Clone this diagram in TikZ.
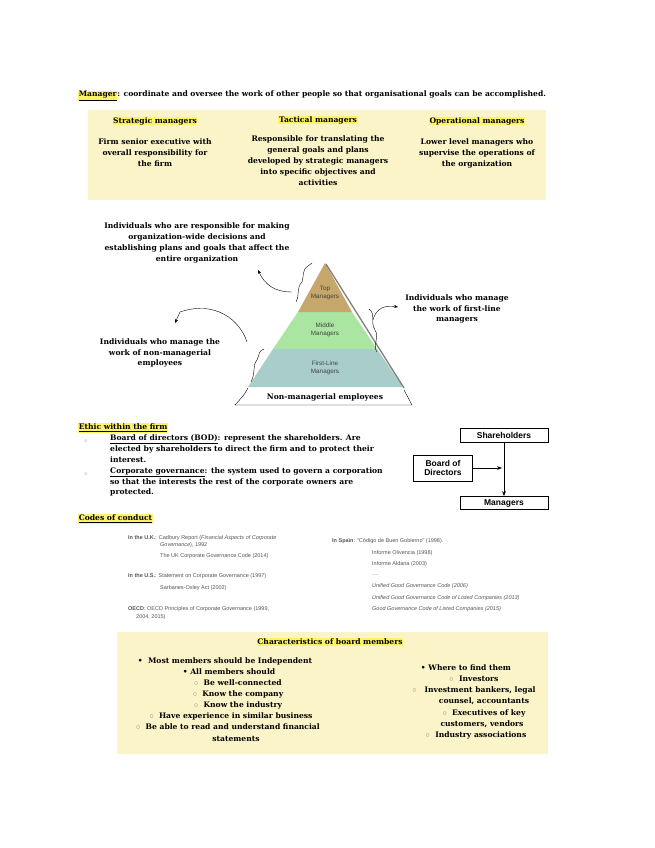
\documentclass[tikz,border=0pt]{standalone}
\usepackage{fontspec}
\setmainfont{DejaVu Serif}
\newfontfamily\sans{Liberation Sans}
\usetikzlibrary{arrows.meta,calc}
\definecolor{boxy}{HTML}{FBF4C8}
\definecolor{hl}{HTML}{FDF36A}
\definecolor{topc}{HTML}{C7A86C}
\definecolor{midc}{HTML}{ABE5A2}
\definecolor{lowc}{HTML}{A9CDCB}
\definecolor{codeg}{HTML}{555555}
\setlength{\fboxsep}{0.6pt}
\tikzset{
 x=1pt,y=-1pt,
 t/.style={font=\bfseries\fontsize{7.6}{10.8}\selectfont,inner sep=0pt,align=center},
 tl/.style={t,align=left,anchor=west},
 hlt/.style={t,fill=hl,inner sep=0.6pt},
 code/.style={font=\sans\fontsize{5.5}{7}\selectfont,text=codeg,inner sep=0pt,anchor=west},
 fb/.style={draw,thick,font=\sans\bfseries\fontsize{8.5}{9.5}\selectfont,align=center,inner sep=1pt},
 curl/.style={-{Stealth[length=4pt]},thin},
 brace/.style={thin}
}
\begin{document}
\begin{tikzpicture}
\useasboundingbox (0,0) rectangle (655,848);
\fill[white] (0,0) rectangle (655,848);
% intro
\node[tl] (intro) at (78,96) {\colorbox{hl}{\underline{Manager}}: coordinate and oversee the work of other people so that organisational goals can be accomplished.};
\fill[boxy] (88,110) rectangle (546,200);
\node[hlt] (h1) at (155,121) {Strategic managers};
\node[hlt] (h2) at (318,120) {Tactical managers};
\node[hlt] (h3) at (477,121) {Operational managers};
\node[t,anchor=north] (b1) at (155,139) {Firm senior executive with\\overall responsibility for\\the firm};
\node[t,anchor=north] (b2) at (318,136) {Responsible for translating the\\general goals and plans\\developed by strategic managers\\into specific objectives and\\activities};
\node[t,anchor=north] (b3) at (477,139) {Lower level managers who\\supervise the operations of\\the organization};
% pyramid
\fill[lowc] (248,387) -- (403,387) -- (377,349) -- (273,349) -- cycle;
\fill[midc] (273,349) -- (377,349) -- (352,312) -- (298,312) -- cycle;
\fill[topc] (298,312) -- (352,312) -- (325,263) -- cycle;
\draw[gray,line width=1.3pt] (326,264) -- (404,388);
\node[font=\sans\fontsize{6.3}{7.5}\selectfont,align=center,text=black!75] (ptop) at (325,293) {Top\\Managers};
\node[font=\sans\fontsize{6.3}{7.5}\selectfont,align=center,text=black!75] (pmid) at (325,330) {Middle\\Managers};
\node[font=\sans\fontsize{6.3}{7.5}\selectfont,align=center,text=black!75] (plow) at (325,368) {First-Line\\Managers};
\node[t] (nonm) at (325,397) {Non-managerial employees};
\draw[thin] (248,388) .. controls (244,395) .. (235,405) -- (412,405) .. controls (408,398) .. (404,390);
% text blocks
\node[t] (ttop) at (197,243) {Individuals who are responsible for making\\organization-wide decisions and\\establishing plans and goals that affect the\\entire organization};
\node[t] (tright) at (457,309) {Individuals who manage\\the work of first-line\\managers};
\node[t] (tleft) at (160,353) {Individuals who manage the\\work of non-managerial\\employees};
% braces and curls
\coordinate (c1) at (292,292);
\coordinate (c1e) at (258,270);
\draw[curl] (c1) .. controls (275,292) and (265,285) .. (c1e);
\draw[brace] (296,302) .. controls (300,295) and (296,288) .. (302,282) .. controls (304,275) and (302,270) .. (308,266) -- (312,263);
\coordinate (c2) at (247,342);
\coordinate (c2e) at (175,323);
\draw[curl] (c2) .. controls (240,320) and (215,300) .. (180,312) -- (c2e);
\draw[brace] (251,382) .. controls (256,372) and (252,366) .. (257,360) .. controls (260,354) and (258,351) .. (264,349);
\coordinate (c3) at (373,320);
\coordinate (c3e) at (398,307);
\draw[curl] (c3) .. controls (376,308) and (385,305) .. (c3e);
\draw[brace] (369,309) .. controls (376,314) and (370,322) .. (375,330) .. controls (380,338) and (372,345) .. (377,352);
% ethic section
\node[tl] (eth) at (78,428) {\colorbox{hl}{\underline{Ethic within the firm}}};
\node[tl,anchor=north west] (ethb) at (110,435) {\underline{Board of directors (BOD)}: represent the shareholders. Are\\elected by shareholders to direct the firm and to protect their\\interest.\\\underline{Corporate governance}: the system used to govern a corporation\\so that the interests the rest of the corporate owners are\\protected.};
\node[text=gray,font=\tiny] (bu1) at (86,441) {$\circ$};
\node[text=gray,font=\tiny] (bu2) at (86,474) {$\circ$};
% flow chart
\node[fb,minimum width=88pt,minimum height=14pt] (sh) at (504,435) {Shareholders};
\node[fb,minimum width=59pt,minimum height=26pt] (bod) at (443,468) {Board of\\Directors};
\node[fb,minimum width=88pt,minimum height=13pt] (mg) at (504,503) {Managers};
\draw[thick,-{Stealth[length=5pt]}] (sh) -- (mg);
\draw[thick,-{Stealth[length=5pt]}] (bod.east) -- (502,468);
% codes of conduct
\node[tl] (coc) at (78,519) {\colorbox{hl}{\underline{Codes of conduct}}};
\node[code] (u1) at (128,538) {\textbf{In the U.K.}: Cadbury Report (\textit{Financial Aspects of Corporate}};
\node[code] (u2) at (160,545) {\textit{Governance}), 1992};
\node[code] (u3) at (160,556) {The UK Corporate Governance Code (2014)};
\node[code] (s1) at (128,576) {\textbf{In the U.S.}: Statement on Corporate Governance (1997)};
\node[code] (s2) at (160,588) {Sarbanes-Oxley Act (2002)};
\node[code] (o1) at (128,609) {\textbf{OECD}: OECD Principles of Corporate Governance (1999,};
\node[code] (o2) at (136,617) {2004, 2015)};
\node[code] (e1) at (332,541) {\textbf{In Spain}: “Código de Buen Gobierno” (1998).};
\node[code] (e2) at (372,553) {Informe Olivencia (1998)};
\node[code] (e3) at (372,564) {Informe Aldana (2003)};
\node[code] (e4) at (372,575) {....};
\node[code] (e5) at (372,586) {\textit{Unified Good Governance Code (2006)}};
\node[code] (e6) at (372,598) {\textit{Unified Good Governance Code of Listed Companies (2013)}};
\node[code] (e7) at (372,609) {\textit{Good Governance Code of Listed Companies (2015)}};
% board members
\fill[boxy] (117,632) rectangle (548,754);
\node[hlt] (bm) at (330,642) {Characteristics of board members};
\node[t] (l1) at (225,661) {•\ \ Most members should be Independent};
\node[t] (l2) at (229,672) {• All members should};
\node[t] (l3) at (238,683) {{\color{gray}$\circ$}\ \ Be well-connected};
\node[t] (l4) at (238,694) {{\color{gray}$\circ$}\ \ Know the company};
\node[t] (l5) at (238,705) {{\color{gray}$\circ$}\ \ Know the industry};
\node[t] (l6) at (231,716) {{\color{gray}$\circ$}\ \ Have experience in similar business};
\node[t] (l7) at (228,727) {{\color{gray}$\circ$}\ \ Be able to read and understand financial};
\node[t] (l8) at (236,739) {statements};
\node[t] (r1) at (466,668) {• Where to find them};
\node[t] (r2) at (474,679) {{\color{gray}$\circ$}\ \ Investors};
\node[t] (r3) at (474,690) {{\color{gray}$\circ$}\ \ \ Investment bankers, legal};
\node[t] (r4) at (484,701) {counsel, accountants};
\node[t] (r5) at (484,713) {{\color{gray}$\circ$}\ \ Executives of key};
\node[t] (r6) at (482,724) {customers, vendors};
\node[t] (r7) at (476,735) {{\color{gray}$\circ$}\ \ Industry associations};
\end{tikzpicture}
\end{document}
